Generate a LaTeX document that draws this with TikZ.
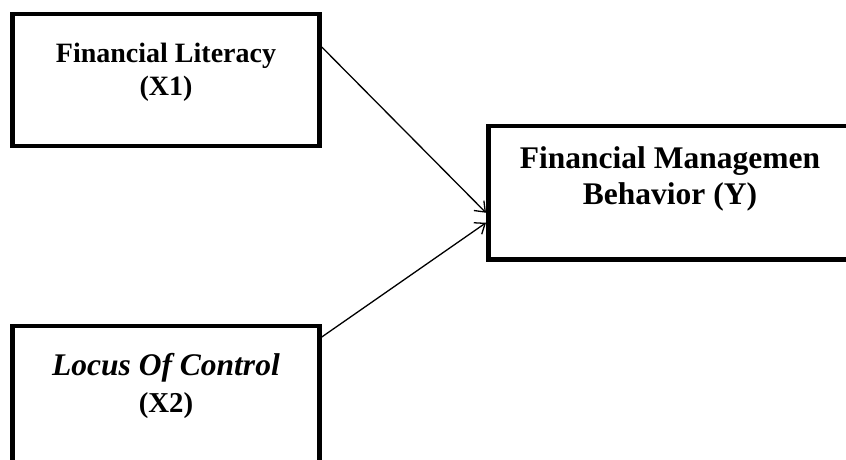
\documentclass[tikz,border=0pt]{standalone}
\usepackage{fontspec}
\setmainfont{Liberation Serif}
\usetikzlibrary{arrows.meta}
\tikzset{>={Straight Barb[length=9pt,width=14pt]}}

\begin{document}
\begin{tikzpicture}[x=1pt,y=-1pt,
    box/.style={draw,line width=4.5pt,inner sep=0pt},
    lbl/.style={align=center,inner sep=0pt,anchor=north}]
  \useasboundingbox (0,0) rectangle (846,459);
  \clip (0,0) rectangle (846,459);
  % the three variables
  \node[box,minimum width=307pt,minimum height=132pt,
        label={[lbl,yshift=-31pt,font=\fontsize{28}{33}\selectfont\bfseries]north:Financial Literacy\\(X1)}] (lit) at (166,80) {};
  \node[box,minimum width=307pt,minimum height=140pt,
        label={[lbl,yshift=-29pt,font=\fontsize{28.8}{31}\selectfont\bfseries]north:{\fontsize{31.5}{31}\selectfont\itshape Locus Of Control}\\[6pt](X2)}] (loc) at (166,396) {};
  \node[box,minimum width=363.5pt,minimum height=133.5pt,
        label={[lbl,yshift=-22.5pt,font=\fontsize{31.5}{36}\selectfont\bfseries]north:Financial Managemen\\Behavior (Y)}] (beh) at (670,192.75) {};
  % paths
  \draw[->,line width=1.3pt] ([yshift=33pt]lit.east) -- ([yshift=-20pt]beh.west);
  \draw[->,line width=1.3pt] ([yshift=59pt]loc.east) -- ([yshift=-30pt]beh.west);
\end{tikzpicture}
\end{document}
